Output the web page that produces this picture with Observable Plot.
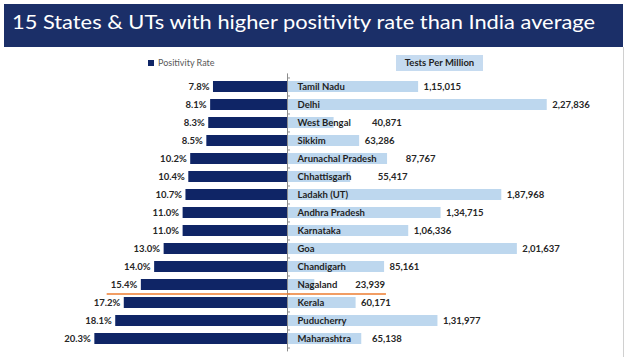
<!DOCTYPE html>
<html><head><meta charset="utf-8">
<script src="https://cdn.jsdelivr.net/npm/d3@7"></script>
<script src="https://cdn.jsdelivr.net/npm/@observablehq/plot@0.6"></script>
<style>
html,body{margin:0;padding:0;background:#fff;}
#wrap{position:relative;width:628px;height:357px;overflow:hidden;font-family:Lato,"Open Sans",sans-serif;}
#banner{position:absolute;left:4px;top:4px;width:619px;height:43px;background:#1b2f68;}
#title{position:absolute;left:12px;top:9px;color:#fff;font-size:20px;white-space:nowrap;transform-origin:0 0;font-family:Lato,sans-serif;}
#edge{position:absolute;left:623px;top:47px;width:1px;height:310px;background:#d0d0d0;}
#leg1{position:absolute;left:148px;top:57px;font-size:9px;color:#595959;white-space:nowrap;}
#leg1 span{display:inline-block;width:6px;height:6px;background:#0f2566;margin-right:4px;vertical-align:0px;}
#leg2{position:absolute;left:396px;top:55px;width:87px;height:16px;background:#c6dbf0;font-size:9.5px;font-weight:bold;color:#1f1f1f;text-align:center;line-height:16px;}
.plot{position:absolute;left:0;top:0;}
</style>
</head><body>
<div id="wrap">
  <div id="banner"></div>
  <div id="title">15 States &amp; UTs with higher positivity rate than India average</div>
  <div id="edge"></div>
  <div id="leg1"><span></span>Positivity Rate</div>
  <div id="leg2">Tests Per Million</div>
  <div id="left" class="plot"></div>
  <div id="right" class="plot"></div>
</div>
<script>
const states = ["Tamil Nadu","Delhi","West Bengal","Sikkim","Arunachal Pradesh","Chhattisgarh","Ladakh (UT)","Andhra Pradesh","Karnataka","Goa","Chandigarh","Nagaland","Kerala","Puducherry","Maharashtra"];
const positivityRate = [7.8,8.1,8.3,8.5,10.2,10.4,10.7,11.0,11.0,13.0,14.0,15.4,17.2,18.1,20.3];
const testsPerMillion = [115015,227836,40871,63286,87767,55417,187968,134715,106336,201637,85161,23939,60171,131977,65138];
const averageLineAfter = "Nagaland";
const avgLineRate = 19;      // extent of the India-average marker line on the left side
const avgLineTests = 86800;  // extent on the right side

const data = states.map((s,i)=>({state:s, rate:positivityRate[i], tests:testsPerMillion[i]}));

function fmtIN(n){
  const s = String(Math.round(n));
  if (s.length<=3) return s;
  const last3 = s.slice(-3);
  let rest = s.slice(0,-3);
  const parts=[];
  while(rest.length>2){parts.unshift(rest.slice(-2)); rest=rest.slice(0,-2);}
  if(rest) parts.unshift(rest);
  return parts.join(",")+","+last3;
}

const W=628, H=357, MT=73.4, MB=5.6, PAD=0.4;
const step=(H-MT-MB)/(states.length+PAD);
const zeroX=287;
const navy="#0f2566", light="#bdd7ee", orange="#ed7d31";
const font={fontFamily:"Lato, sans-serif", fontSize:"9.5px", background:"transparent"};

// left: positivity rate
const rateMax=28;
const left = Plot.plot({
  width:W, height:H, marginTop:MT, marginBottom:MB, marginRight:W-zeroX, marginLeft:zeroX-rateMax*9.49,
  x:{domain:[0,rateMax], reverse:true, axis:null},
  y:{domain:states, padding:PAD, axis:null},
  style:font,
  marks:[
    Plot.barX(data,{x:"rate", y:"state", fill:navy}),
    Plot.text(data,{x:"rate", y:"state", text:d=>d.rate.toFixed(1)+"%", textAnchor:"end", dx:-4, fontWeight:"bold", fill:"#262626"}),
    Plot.ruleY([averageLineAfter],{y:d=>d, x1:0, x2:avgLineRate, dy:step/2, stroke:orange, strokeWidth:1.6})
  ]
});
document.getElementById("left").appendChild(left);

// right: tests per million
const k=0.00114;
const testMax=290000;
const nameW=5.6;
const right = Plot.plot({
  width:W, height:H, marginTop:MT, marginBottom:MB, marginLeft:zeroX, marginRight:W-zeroX-testMax*k,
  x:{domain:[0,testMax], axis:null},
  y:{domain:states, padding:PAD, axis:null},
  style:font,
  marks:[
    Plot.barX(data,{x:"tests", y:"state", fill:light}),
    Plot.text(data,{x:0, y:"state", text:"state", textAnchor:"start", dx:10, fontWeight:"bold", fill:"#1f1f1f"}),
    Plot.text(data,{x:d=>Math.max(d.tests,(10+d.state.length*nameW+8)/k), y:"state", text:d=>fmtIN(d.tests), textAnchor:"start", dx:5, fontWeight:"bold", fill:"#262626"}),
    Plot.ruleX([0],{stroke:"#8c8c8c", strokeWidth:1}),
    Plot.ruleY(states,{y:d=>d, x1:0, x2:2600, dy:-step/2, stroke:"#8c8c8c"}),
    Plot.ruleY(states.slice(-1),{y:d=>d, x1:0, x2:2600, dy:step/2, stroke:"#8c8c8c"}),
    Plot.ruleY([averageLineAfter],{y:d=>d, x1:0, x2:avgLineTests, dy:step/2, stroke:orange, strokeWidth:1.6})
  ]
});
document.getElementById("right").appendChild(right);

// fit title width to banner like the original
const t=document.getElementById("title");
const w=t.getBoundingClientRect().width;
t.style.transform="scaleX("+(583/w)+")";
</script>
</body></html>
